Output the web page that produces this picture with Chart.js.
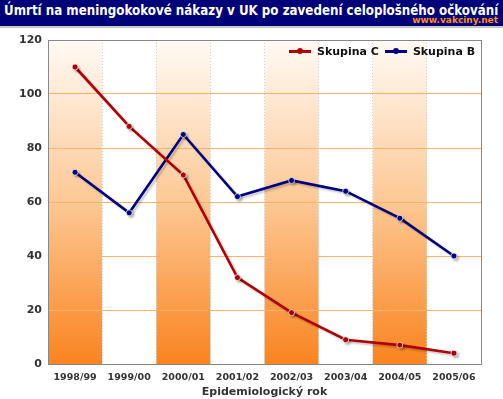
<!DOCTYPE html>
<html>
<head>
<meta charset="utf-8">
<script src="https://cdn.jsdelivr.net/npm/chart.js@4"></script>
<style>
  body { margin: 0; background: #fff; font-family: "DejaVu Sans", Verdana, sans-serif; }
  #wrap { position: relative; width: 503px; height: 399px; }
  #bar { position: absolute; left: 0; top: 0; width: 503px; height: 26px; background: #000078; border-bottom: 2px solid #c8c8c8; }
  #title { position: absolute; left: 4px; top: 3px; color: #fff; font-weight: bold; font-size: 13.4px; white-space: nowrap; transform-origin: 0 0; }
  #web { position: absolute; right: 5px; top: 15px; color: #ff8c1a; font-weight: bold; font-size: 9px; }
  #legend { position: absolute; top: 45px; left: 289px; font-size: 11px; font-weight: bold; color: #111; white-space: nowrap; }
  .it { display: inline-block; margin-right: 6px; }
  .sym { display: inline-block; position: relative; width: 22px; height: 10px; vertical-align: -1px; margin-right: 6px; }
  .sym i { position: absolute; left: 0; top: 4px; width: 22px; height: 3px; }
  .sym b { position: absolute; left: 8px; top: 2px; width: 6px; height: 6px; border-radius: 50%; }
  canvas { position: absolute; left: 0; top: 0; }
</style>
</head>
<body>
<div id="wrap">
  <canvas id="chart" width="503" height="399"></canvas>
  <div id="bar"><div id="title">Úmrtí na meningokokové nákazy v UK po zavedení celoplošného očkování</div><div id="web">www.vakciny.net</div></div>
  <div id="legend"></div>
</div>
<script>
years = ['1998/99', '1999/00', '2000/01', '2001/02', '2002/03', '2003/04', '2004/05', '2005/06']
skupina_c = [110, 88, 70, 32, 19, 9, 7, 4]
skupina_b = [71, 56, 85, 62, 68, 64, 54, 40]

const red = '#b00008'
const blue = '#000080'

// squeeze the title if it does not fit in the bar
const t = document.getElementById('title')
if (t.scrollWidth > 494) t.style.transform = 'scaleX(' + (494 / t.scrollWidth) + ')'

// legend in html
document.getElementById('legend').innerHTML =
    '<span class="it"><span class="sym"><i style="background:' + red + '"></i><b style="background:' + red + '"></b></span>Skupina C</span>' +
    '<span class="it"><span class="sym"><i style="background:' + blue + '"></i><b style="background:' + blue + '"></b></span>Skupina B</span>'

// orange gradient columns behind every second year
const bands = {
    id: 'bands',
    beforeDraw(chart) {
        const {ctx, chartArea, scales} = chart
        const g = ctx.createLinearGradient(0, chartArea.top, 0, chartArea.bottom)
        g.addColorStop(0, '#fffaf5')
        g.addColorStop(0.5, '#fdc894')
        g.addColorStop(1, '#f9841f')
        const w = scales.x.getPixelForValue(1) - scales.x.getPixelForValue(0)
        ctx.save()
        ctx.fillStyle = g
        for (let i = 0; i < years.length; i += 2) {
            const cx = scales.x.getPixelForValue(i)
            ctx.fillRect(cx - w / 2, chartArea.top, w, chartArea.bottom - chartArea.top)
        }
        ctx.restore()
    },
    afterDraw(chart) {
        const {ctx, chartArea} = chart
        ctx.save()
        ctx.strokeStyle = '#888'
        ctx.lineWidth = 1
        ctx.strokeRect(chartArea.left + 0.5, chartArea.top + 0.5, chartArea.right - chartArea.left, chartArea.bottom - chartArea.top)
        ctx.restore()
    }
}

const shadow = {
    id: 'shadow',
    beforeDatasetDraw(chart) {
        const ctx = chart.ctx
        ctx.save()
        ctx.shadowColor = 'rgba(0,0,0,0.22)'
        ctx.shadowOffsetX = 2
        ctx.shadowOffsetY = 2
        ctx.shadowBlur = 2
    },
    afterDatasetDraw(chart) {
        chart.ctx.restore()
    }
}

new Chart(
    document.getElementById('chart'),
    {
        type: 'line',
        data: {
            labels: years,
            datasets: [
                {
                    label: 'Skupina C',
                    data: skupina_c,
                    borderColor: red,
                    backgroundColor: red,
                    borderWidth: 2.6,
                    pointRadius: 3,
                    pointBorderColor: 'rgba(255,255,255,0.7)',
                    pointBorderWidth: 1,
                    tension: 0
                },
                {
                    label: 'Skupina B',
                    data: skupina_b,
                    borderColor: blue,
                    backgroundColor: blue,
                    borderWidth: 2.6,
                    pointRadius: 3,
                    pointBorderColor: 'rgba(255,255,255,0.7)',
                    pointBorderWidth: 1,
                    tension: 0
                }
            ]
        },
        options: {
            responsive: false,
            animation: false,
            layout: {
                padding: {top: 40, right: 22, bottom: 0, left: 0}
            },
            plugins: {
                legend: {display: false},
                tooltip: {enabled: false}
            },
            scales: {
                x: {
                    offset: true,
                    grid: {
                        offset: true,
                        color: '#d0d0d0',
                        tickLength: 0
                    },
                    border: {display: true, color: '#888', dash: [1, 2]},
                    ticks: {
                        color: '#333',
                        font: {family: 'DejaVu Sans', size: 9.5, weight: 'bold'},
                        padding: 8,
                        maxRotation: 0
                    },
                    title: {
                        display: true,
                        text: 'Epidemiologický rok',
                        color: '#333',
                        font: {family: 'DejaVu Sans', size: 11, weight: 'bold'},
                        padding: {top: 0, bottom: 0}
                    },
                    afterFit(scale) { scale.height = 35 }
                },
                y: {
                    min: 0,
                    max: 120,
                    ticks: {
                        stepSize: 20,
                        color: '#333',
                        font: {family: 'DejaVu Sans', size: 11, weight: 'bold'},
                        padding: 6
                    },
                    grid: {
                        color: '#ffb26b',
                        tickLength: 0
                    },
                    border: {display: false},
                    afterFit(scale) { scale.width = 48 }
                }
            }
        },
        plugins: [bands, shadow]
    }
)
</script>
</body>
</html>
